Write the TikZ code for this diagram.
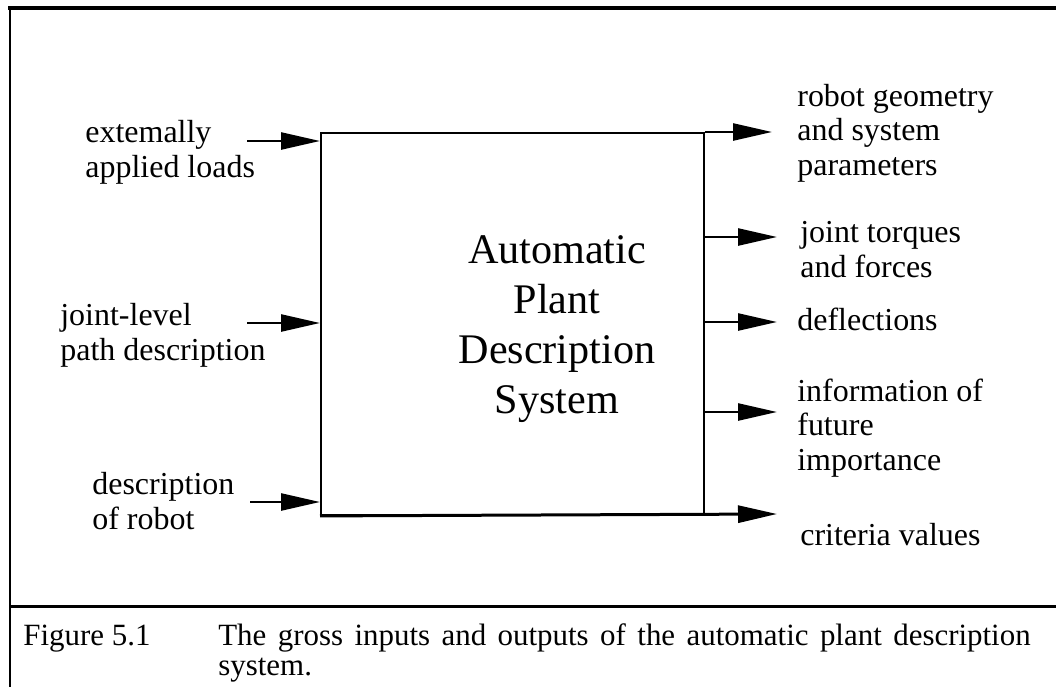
\documentclass[tikz,border=0pt]{standalone}
\usepackage{fontspec}
\setmainfont{Liberation Serif}
\usetikzlibrary{calc,arrows.meta}

\tikzset{
  lbl/.style={anchor=base west, inner sep=0pt, align=left,
    font=\fontsize{18.2pt}{19.6pt}\selectfont},
  unterschrift/.style={anchor=base west, inner sep=0pt, align=left,
    font={\fontsize{17.6pt}{17pt}\selectfont\lineskiplimit=-20pt\relax}},
  flow/.style={line width=0.05cm, -{Triangle[length=0.78cm,width=0.34cm]}},
}

\begin{document}
\begin{tikzpicture}[x=0.02cm,y=-0.02cm] % 1 Einheit = 1 Pixel, Texte an letzter Grundlinie
\useasboundingbox (0,0) rectangle (1056,687);

%RAHMEN
\draw [line width=0.08cm] (8,8) -- (1056,8);
\draw [line width=0.06cm] (10,8) -- (10,687);
\draw [line width=0.06cm] (10,606) -- (1056,606);

%BLOCK
\node [draw, line width=0.04cm, inner sep=0pt, anchor=north west,
  minimum width=7.66cm, minimum height=7.64cm] (apds) at (320,132) {};
\node [anchor=base, inner sep=0pt, align=center,
  font=\fontsize{24pt}{28.45pt}\selectfont] (titel) at (557,413)
  {Automatic\\Plant\\Description\\System};




%EINGANG NR. 0 (von oben)
\coordinate (ein0) at (247,141);
\draw [flow] (ein0) -- (ein0 -| apds.west);
\node [lbl] (last) at (85,177) {extemally\\applied loads};

%EINGANG NR. 1 (von oben)
\coordinate (ein1) at (247,323);
\draw [flow] (ein1) -- (ein1 -| apds.west);
\node [lbl] (pfad) at (60,360) {joint-level\\path description};

%EINGANG NR. 2 (von oben)
\coordinate (ein2) at (250,502);
\draw [flow] (ein2) -- (ein2 -| apds.west);
\node [lbl] (robot) at (92,529) {description\\of robot};




%AUSGANG NR. 0 (von oben)
\coordinate (aus0) at (772,132);
\draw [flow] (apds.north east) -- (aus0);
\node [lbl] (geom) at (797,175) {robot geometry\\and system\\parameters};

%AUSGANG NR. 1 (von oben)
\coordinate (aus1) at (777,237);
\draw [flow] (aus1 -| apds.east) -- (aus1);
\node [lbl] (moment) at (800,277) {joint torques\\and forces};

%AUSGANG NR. 2 (von oben)
\coordinate (aus2) at (777,322);
\draw [flow] (aus2 -| apds.east) -- (aus2);
\node [lbl] (defl) at (797,330) {deflections};

%AUSGANG NR. 3 (von oben)
\coordinate (aus3) at (777,412);
\draw [flow] (aus3 -| apds.east) -- (aus3);
\node [lbl] (info) at (797,470) {information of\\future\\importance};

%AUSGANG NR. 4 (von oben)
\coordinate (aus4) at (777,514);
\draw [flow, line width=0.06cm] (apds.south west) -- (aus4);
\node [lbl] (krit) at (800,545) {criteria values};




%BILDUNTERSCHRIFT
\node [unterschrift] (fig) at (23,645) {Figure 5.1};
\node [unterschrift] (captxt) at (218,675)
  {\spaceskip=0.37em\relax The gross inputs and outputs of the automatic plant description\\system.};

\end{tikzpicture}
\end{document}
